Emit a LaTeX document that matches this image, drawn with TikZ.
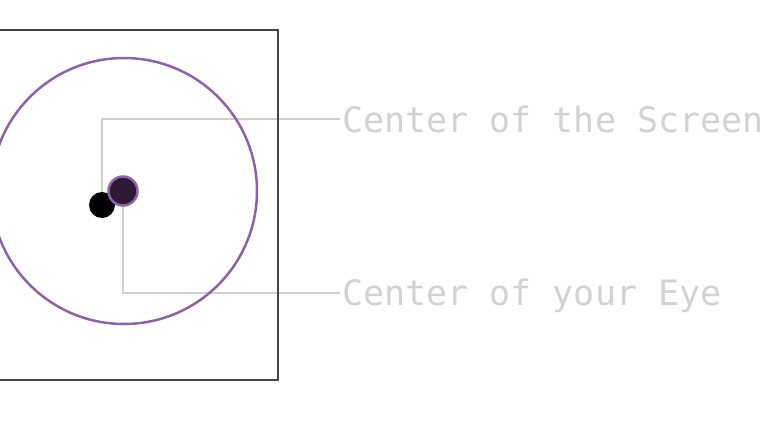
\documentclass[tikz,border=0pt]{standalone}
\usepackage{fontspec}
\newfontfamily\monofont{DejaVu Sans Mono}
\usetikzlibrary{backgrounds}
\definecolor{frame}{HTML}{444444}
\definecolor{ring}{HTML}{8E62AA}
\definecolor{eyefill}{HTML}{2E1A33}
\definecolor{lead}{HTML}{CFCFCF}
\definecolor{labeltext}{HTML}{D2D2D2}
\tikzset{
  leadline/.style={draw=lead, line width=2.5pt},
  labelstyle/.style={anchor=base west, inner sep=0pt, text=labeltext, font=\monofont\fontsize{35}{35}\selectfont},
  screendot/.style={circle, fill=black, minimum size=26pt, inner sep=0pt},
  eyedot/.style={circle, fill=eyefill, draw=ring, line width=2.5pt, minimum size=29pt, inner sep=0pt},
}
\begin{document}
\begin{tikzpicture}[x=1pt, y=-1pt]
\useasboundingbox (0,0) rectangle (784,441);
\begin{scope}
\clip (0,0) rectangle (784,441);
\draw[frame, line width=2.5pt] (-72,30) rectangle (278,380);
\end{scope}
\draw[ring, line width=2.5pt] (124,191) circle (133);
\node[screendot] (scr) at (102,205) {};
\node[eyedot] (eye) at (123,191) {};
\coordinate (sEnd) at (340,119);
\coordinate (eEnd) at (340,293);
\node[labelstyle] (sLab) at (342,132) {Center of the Screen};
\node[labelstyle] (eLab) at (342,305) {Center of your Eye};
\begin{pgfonlayer}{background}
\draw[leadline] (scr.center) |- (sEnd);
\draw[leadline] (eye.center) |- (eEnd);
\end{pgfonlayer}
\end{tikzpicture}
\end{document}
